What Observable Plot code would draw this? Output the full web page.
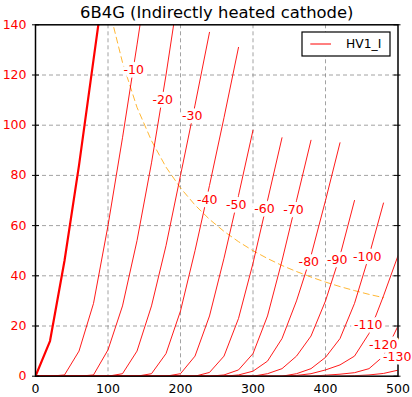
<!DOCTYPE html>
<html>
<head>
<meta charset="utf-8">
<script src="https://cdn.jsdelivr.net/npm/d3@7"></script>
<script src="https://cdn.jsdelivr.net/npm/@observablehq/plot@0.6"></script>
<style>
  html, body { margin: 0; padding: 0; background: #fff; }
  #wrap { position: relative; width: 412px; height: 397px; font-family: "DejaVu Sans", sans-serif; }
  #legend { position: absolute; left: 0; top: 0; pointer-events: none; }
</style>
</head>
<body>
<div id="wrap"></div>
<script>
// ---- data ----
const title = "6B4G (Indirectly heated cathode)";
const legendLabel = "HV1_I";

// plate voltage sample points (V)
const plateV = [0, 20, 40, 60, 80, 100, 120, 140, 160, 180, 200, 220, 240, 260, 280, 300, 320, 340, 360, 380, 400, 420, 440, 460, 480, 500];

// grid voltages (V)
const gridV = [0, -10, -20, -30, -40, -50, -60, -70, -80, -90, -100, -110, -120, -130];

// plate current (mA) for each grid voltage, aligned with plateV
const ia_0    = [0, 14, 46, 84, 126, 168];
const ia_m10  = [0, 0, 0.5, 10, 29, 60, 95, 132, 170];
const ia_m20  = [0, 0, 0, 0, 0.5, 10.5, 28, 54, 85, 120, 158];
const ia_m30  = [0, 0, 0, 0, 0, 0, 1, 10, 28, 52, 80, 108, 137];
const ia_m40  = [0, 0, 0, 0, 0, 0, 0, 0, 1, 9, 26, 50, 76, 103, 131];
const ia_m50  = [0, 0, 0, 0, 0, 0, 0, 0, 0, 0, 1, 8, 24, 47, 72, 98];
const ia_m60  = [0, 0, 0, 0, 0, 0, 0, 0, 0, 0, 0, 0, 1.5, 8, 23, 45, 70, 95];
const ia_m70  = [0, 0, 0, 0, 0, 0, 0, 0, 0, 0, 0, 0, 0, 0.5, 2.5, 9, 24, 46, 70, 94];
const ia_m80  = [0, 0, 0, 0, 0, 0, 0, 0, 0, 0, 0, 0, 0, 0, 0.5, 2, 6, 15, 30, 48, 70, 93];
const ia_m90  = [0, 0, 0, 0, 0, 0, 0, 0, 0, 0, 0, 0, 0, 0, 0, 0, 1, 3, 8, 16, 30, 48, 70];
const ia_m100 = [0, 0, 0, 0, 0, 0, 0, 0, 0, 0, 0, 0, 0, 0, 0, 0, 0, 0, 1, 3, 7.5, 15, 29, 48, 69];
const ia_m110 = [0, 0, 0, 0, 0, 0, 0, 0, 0, 0, 0, 0, 0, 0, 0, 0, 0, 0, 0.3, 1, 2.5, 4.5, 8, 17, 32, 48];
const ia_m120 = [0, 0, 0, 0, 0, 0, 0, 0, 0, 0, 0, 0, 0, 0, 0, 0, 0, 0, 0, 0, 0.4, 0.8, 1.4, 3, 8, 20];
const ia_m130 = [0, 0, 0, 0, 0, 0, 0, 0, 0, 0, 0, 0, 0, 0, 0, 0, 0, 0, 0, 0, 0, 0, 0.2, 0.5, 1.1, 2.4];
const currents = [ia_0, ia_m10, ia_m20, ia_m30, ia_m40, ia_m50, ia_m60, ia_m70, ia_m80, ia_m90, ia_m100, ia_m110, ia_m120, ia_m130];

// curve labels (text and anchor point on the plate-voltage / current plane)
const labelText = ["-10", "-20", "-30", "-40", "-50", "-60", "-70", "-80", "-90", "-100", "-110", "-120", "-130"];
const labelV  = [135.6, 175.6, 216.1, 236.8, 276.8, 315.9, 355.9, 377.0, 416.1, 457.5, 458.9, 479.6, 498.9];
const labelIa = [122.1, 110.1, 103.5, 70.3, 68.4, 66.7, 66.4, 45.4, 46.4, 47.4, 20.2, 12.6, 7.8];

// maximum plate dissipation curve (dashed orange)
const dissV  = [108, 120, 140, 160, 180, 200, 220, 240, 260, 280, 300, 320, 340, 360, 380, 400, 420, 440, 460, 480];
const dissIa = [138.9, 125, 107.1, 93.8, 83.3, 75, 68.2, 62.5, 57.7, 53.6, 50, 46.9, 44.1, 41.7, 39.5, 37.5, 35.7, 34.1, 32.6, 31.3];

// axes
const xTicks = [0, 100, 200, 300, 400, 500];
const yTicks = [0, 20, 40, 60, 80, 100, 120, 140];
const xGrid = [100, 200, 300, 400];
const yGrid = [20, 40, 60, 80, 100, 120];

// ---- build tables ----
const rows = [];
gridV.forEach((g, i) => currents[i].forEach((ia, j) => rows.push({g, v: plateV[j], ia})));
const zeroRows = rows.filter(d => d.g === 0);
const otherRows = rows.filter(d => d.g !== 0);
const labels = labelText.map((t, i) => ({t, v: labelV[i], ia: labelIa[i]}));
const diss = dissV.map((v, i) => ({v, ia: dissIa[i]}));

const RED = "#ff0000";
const W = 412, H = 397;
const mL = 35, mR = 14.5, mT = 24.3, mB = 21.3;
const plotW = W - mL - mR;

const chart = Plot.plot({
  width: W,
  height: H,
  marginLeft: mL,
  marginRight: mR,
  marginTop: mT,
  marginBottom: mB,
  style: {fontFamily: "DejaVu Sans, sans-serif", fontSize: "12.5px", background: "#fff", overflow: "visible"},
  x: {domain: [0, 500], label: null},
  y: {domain: [0, 140], label: null},
  marks: [
    Plot.ruleX(xGrid, {stroke: "#8a8a8a", strokeWidth: 0.8, strokeDasharray: "4,3"}),
    Plot.ruleY(yGrid, {stroke: "#8a8a8a", strokeWidth: 0.8, strokeDasharray: "4,3"}),
    Plot.line(diss, {x: "v", y: "ia", stroke: "#ffa500", strokeWidth: 0.8, strokeDasharray: "6,4", clip: true}),
    Plot.line(otherRows, {x: "v", y: "ia", z: "g", stroke: RED, strokeWidth: 0.9, clip: true}),
    Plot.line(zeroRows, {x: "v", y: "ia", stroke: RED, strokeWidth: 2.2, clip: true}),
    Plot.frame({stroke: "black", strokeWidth: 1.5}),
    Plot.tickY(yTicks, {y: d => d, stroke: "black", strokeWidth: 1, insetLeft: -3, insetRight: plotW - 4}),
    Plot.tickY(yTicks, {y: d => d, stroke: "black", strokeWidth: 1, insetLeft: plotW - 4, insetRight: -3}),
    Plot.axisY({ticks: yTicks, tickSize: 0, tickPadding: 9, color: RED, fontSize: 12.5, label: null}),
    Plot.axisX({ticks: xTicks, tickSize: 0, tickPadding: 8, color: "black", fontSize: 12.5, label: null}),
    Plot.text(labels, {x: "v", y: "ia", text: "t", fill: RED, fontSize: 12.5, stroke: "white", strokeWidth: 7, strokeLinejoin: "round", textAnchor: "middle", lineAnchor: "middle"}),
    Plot.text([title], {frameAnchor: "top", lineAnchor: "bottom", dy: -7.3, fontSize: 16.4, fill: "black"})
  ]
});

const wrap = document.getElementById("wrap");
wrap.appendChild(chart);

// legend box (matplotlib style, upper right)
const ns = "http://www.w3.org/2000/svg";
const leg = document.createElementNS(ns, "svg");
leg.setAttribute("id", "legend");
leg.setAttribute("width", W);
leg.setAttribute("height", H);
leg.innerHTML =
  '<rect x="302" y="32" width="88" height="24" fill="white" stroke="black" stroke-width="1.2"></rect>' +
  '<line x1="310.3" y1="44" x2="331" y2="44" stroke="' + RED + '" stroke-width="1"></line>' +
  '<text x="346" y="48.3" font-family="DejaVu Sans, sans-serif" font-size="12.3" fill="black"></text>';
leg.querySelector("text").textContent = legendLabel;
wrap.appendChild(leg);
</script>
</body>
</html>
